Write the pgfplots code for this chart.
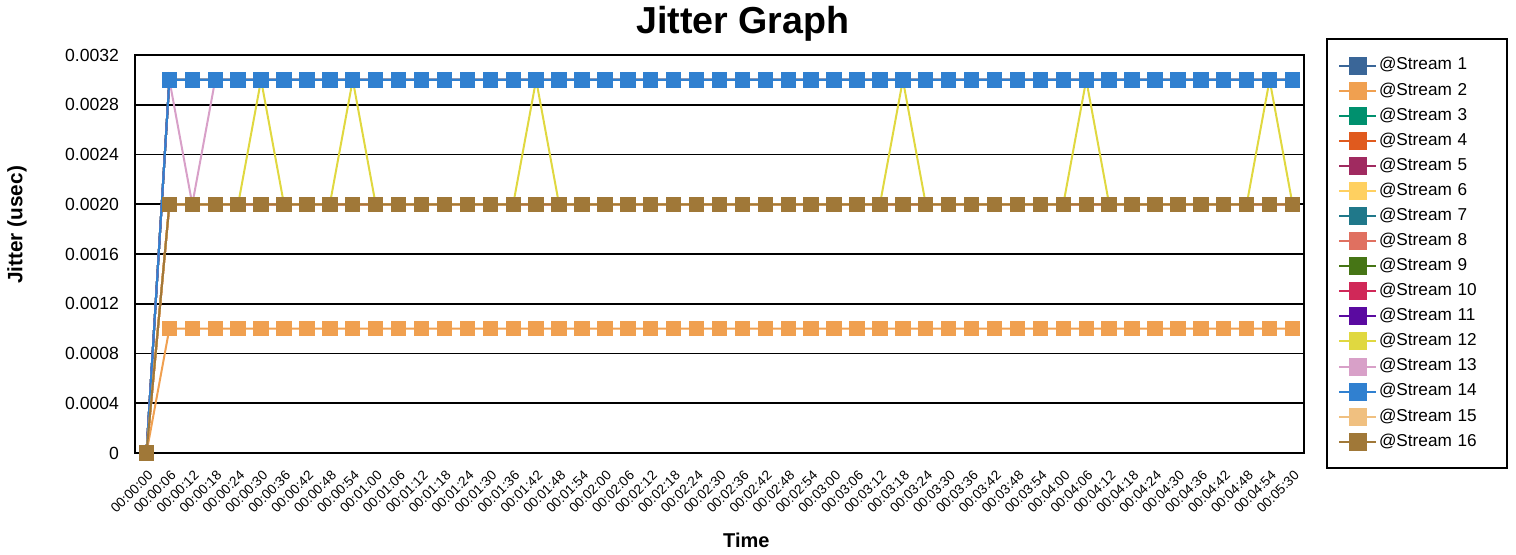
\documentclass[border=0pt]{standalone}
\usepackage{pgfplots}
\usepackage{pgfplotstable}
\pgfplotsset{compat=1.18}
\usepackage{fontspec}
\setmainfont{Liberation Sans}

\definecolor{s1}{HTML}{3A6698}
\definecolor{s2}{HTML}{F0A050}
\definecolor{s3}{HTML}{00906E}
\definecolor{s4}{HTML}{E05A1E}
\definecolor{s5}{HTML}{A02A60}
\definecolor{s6}{HTML}{FFD060}
\definecolor{s7}{HTML}{20788A}
\definecolor{s8}{HTML}{E07060}
\definecolor{s9}{HTML}{467515}
\definecolor{s10}{HTML}{D02858}
\definecolor{s11}{HTML}{5A0AA0}
\definecolor{s12}{HTML}{E0D840}
\definecolor{s13}{HTML}{D8A0C8}
\definecolor{s14}{HTML}{3080D0}
\definecolor{s15}{HTML}{F0C080}
\definecolor{s16}{HTML}{A07838}

% jitter per sample (6 s steps, last one at 00:05:30)
% hi: streams at 0.003, mid: streams at 0.002, lo: stream 2
\pgfplotstableread{
idx hi    mid   lo    s12   s13
0   0     0     0     0     0
1   0.003 0.002 0.001 0.002 0.003
2   0.003 0.002 0.001 0.002 0.002
3   0.003 0.002 0.001 0.002 0.003
4   0.003 0.002 0.001 0.002 0.003
5   0.003 0.002 0.001 0.003 0.003
6   0.003 0.002 0.001 0.002 0.003
7   0.003 0.002 0.001 0.002 0.003
8   0.003 0.002 0.001 0.002 0.003
9   0.003 0.002 0.001 0.003 0.003
10  0.003 0.002 0.001 0.002 0.003
11  0.003 0.002 0.001 0.002 0.003
12  0.003 0.002 0.001 0.002 0.003
13  0.003 0.002 0.001 0.002 0.003
14  0.003 0.002 0.001 0.002 0.003
15  0.003 0.002 0.001 0.002 0.003
16  0.003 0.002 0.001 0.002 0.003
17  0.003 0.002 0.001 0.003 0.003
18  0.003 0.002 0.001 0.002 0.003
19  0.003 0.002 0.001 0.002 0.003
20  0.003 0.002 0.001 0.002 0.003
21  0.003 0.002 0.001 0.002 0.003
22  0.003 0.002 0.001 0.002 0.003
23  0.003 0.002 0.001 0.002 0.003
24  0.003 0.002 0.001 0.002 0.003
25  0.003 0.002 0.001 0.002 0.003
26  0.003 0.002 0.001 0.002 0.003
27  0.003 0.002 0.001 0.002 0.003
28  0.003 0.002 0.001 0.002 0.003
29  0.003 0.002 0.001 0.002 0.003
30  0.003 0.002 0.001 0.002 0.003
31  0.003 0.002 0.001 0.002 0.003
32  0.003 0.002 0.001 0.002 0.003
33  0.003 0.002 0.001 0.003 0.003
34  0.003 0.002 0.001 0.002 0.003
35  0.003 0.002 0.001 0.002 0.003
36  0.003 0.002 0.001 0.002 0.003
37  0.003 0.002 0.001 0.002 0.003
38  0.003 0.002 0.001 0.002 0.003
39  0.003 0.002 0.001 0.002 0.003
40  0.003 0.002 0.001 0.002 0.003
41  0.003 0.002 0.001 0.003 0.003
42  0.003 0.002 0.001 0.002 0.003
43  0.003 0.002 0.001 0.002 0.003
44  0.003 0.002 0.001 0.002 0.003
45  0.003 0.002 0.001 0.002 0.003
46  0.003 0.002 0.001 0.002 0.003
47  0.003 0.002 0.001 0.002 0.003
48  0.003 0.002 0.001 0.002 0.003
49  0.003 0.002 0.001 0.003 0.003
50  0.003 0.002 0.001 0.002 0.003
}\jitter

\begin{document}
\begin{tikzpicture}
\useasboundingbox (-67.5pt,-50.5pt) rectangle (690.5pt,226.5pt);
\begin{axis}[
    scale only axis,
    width=584.5pt, height=199pt,
    xmin=-0.5, xmax=50.5,
    ymin=0, ymax=0.0032,
    clip=false,
    axis line style={line width=1.4pt},
    major tick length=0pt,
    ymajorgrids=true,
    grid style={black, line width=0.8pt},
    scaled y ticks=false,
    ytick={0,0.0004,0.0008,0.0012,0.0016,0.0020,0.0024,0.0028,0.0032},
    yticklabels={0,0.0004,0.0008,0.0012,0.0016,0.0020,0.0024,0.0028,0.0032},
    yticklabel style={font=\fontsize{8.8}{10}\selectfont, xshift=-4.5pt},
    xtick={0,...,50},
    xticklabels={00:00:00,00:00:06,00:00:12,00:00:18,00:00:24,00:00:30,00:00:36,00:00:42,00:00:48,00:00:54,
        00:01:00,00:01:06,00:01:12,00:01:18,00:01:24,00:01:30,00:01:36,00:01:42,00:01:48,00:01:54,
        00:02:00,00:02:06,00:02:12,00:02:18,00:02:24,00:02:30,00:02:36,00:02:42,00:02:48,00:02:54,
        00:03:00,00:03:06,00:03:12,00:03:18,00:03:24,00:03:30,00:03:36,00:03:42,00:03:48,00:03:54,
        00:04:00,00:04:06,00:04:12,00:04:18,00:04:24,00:04:30,00:04:36,00:04:42,00:04:48,00:04:54,
        00:05:30},
    xticklabel style={font=\fontsize{6.8}{7.5}\selectfont, xshift=4.5pt, yshift=-7.5pt, rotate=45, anchor=east},
    /pgf/number format/assume math mode=true,
    title={Jitter Graph},
    title style={at={(0.52,1)}, anchor=base, yshift=5pt, font=\bfseries\fontsize{18.8}{22}\selectfont},
    xlabel={Time},
    xlabel style={at={(axis description cs:0.523,0)}, yshift=-43.5pt, anchor=center, font=\bfseries\fontsize{10}{12}\selectfont},
    ylabel={Jitter (usec)},
    ylabel style={at={(axis description cs:-0.101,0.573)}, anchor=center, font=\bfseries\fontsize{10.4}{12}\selectfont},
    every axis plot/.append style={line width=1pt, mark=square*, mark size=3.35pt, mark options={solid, draw=none}},
    legend image code/.code={
        \draw[mark repeat=2, mark phase=2, mark size=4pt] plot coordinates {(0pt,0pt) (9.25pt,0pt) (18.5pt,0pt)};
    },
    legend cell align=left,
    legend style={at={(1,1)}, anchor=north west, xshift=11pt, yshift=8.5pt,
        draw=black, line width=1pt, inner xsep=5.5pt, inner ysep=7pt,
        font=\fontsize{8.6}{10}\selectfont, row sep=0pt,
        nodes={inner xsep=1pt, inner ysep=2.27pt, text height=6.2pt, text depth=1.8pt},
        /tikz/every even column/.append style={text width=57.5pt}},
]
\addplot[s1]  table[x=idx, y=hi]  {\jitter}; \addlegendentry{@Stream 1}
\addplot[s2]  table[x=idx, y=lo]  {\jitter}; \addlegendentry{@Stream 2}
\addplot[s3]  table[x=idx, y=hi]  {\jitter}; \addlegendentry{@Stream 3}
\addplot[s4]  table[x=idx, y=mid] {\jitter}; \addlegendentry{@Stream 4}
\addplot[s5]  table[x=idx, y=hi]  {\jitter}; \addlegendentry{@Stream 5}
\addplot[s6]  table[x=idx, y=mid] {\jitter}; \addlegendentry{@Stream 6}
\addplot[s7]  table[x=idx, y=hi]  {\jitter}; \addlegendentry{@Stream 7}
\addplot[s8]  table[x=idx, y=mid] {\jitter}; \addlegendentry{@Stream 8}
\addplot[s9]  table[x=idx, y=hi]  {\jitter}; \addlegendentry{@Stream 9}
\addplot[s10] table[x=idx, y=mid] {\jitter}; \addlegendentry{@Stream 10}
\addplot[s11] table[x=idx, y=hi]  {\jitter}; \addlegendentry{@Stream 11}
\addplot[s12] table[x=idx, y=s12] {\jitter}; \addlegendentry{@Stream 12}
\addplot[s13] table[x=idx, y=s13] {\jitter}; \addlegendentry{@Stream 13}
\addplot[s14] table[x=idx, y=hi]  {\jitter}; \addlegendentry{@Stream 14}
\addplot[s15] table[x=idx, y=mid] {\jitter}; \addlegendentry{@Stream 15}
\addplot[s16] table[x=idx, y=mid] {\jitter}; \addlegendentry{@Stream 16}
\end{axis}
\end{tikzpicture}
\end{document}
